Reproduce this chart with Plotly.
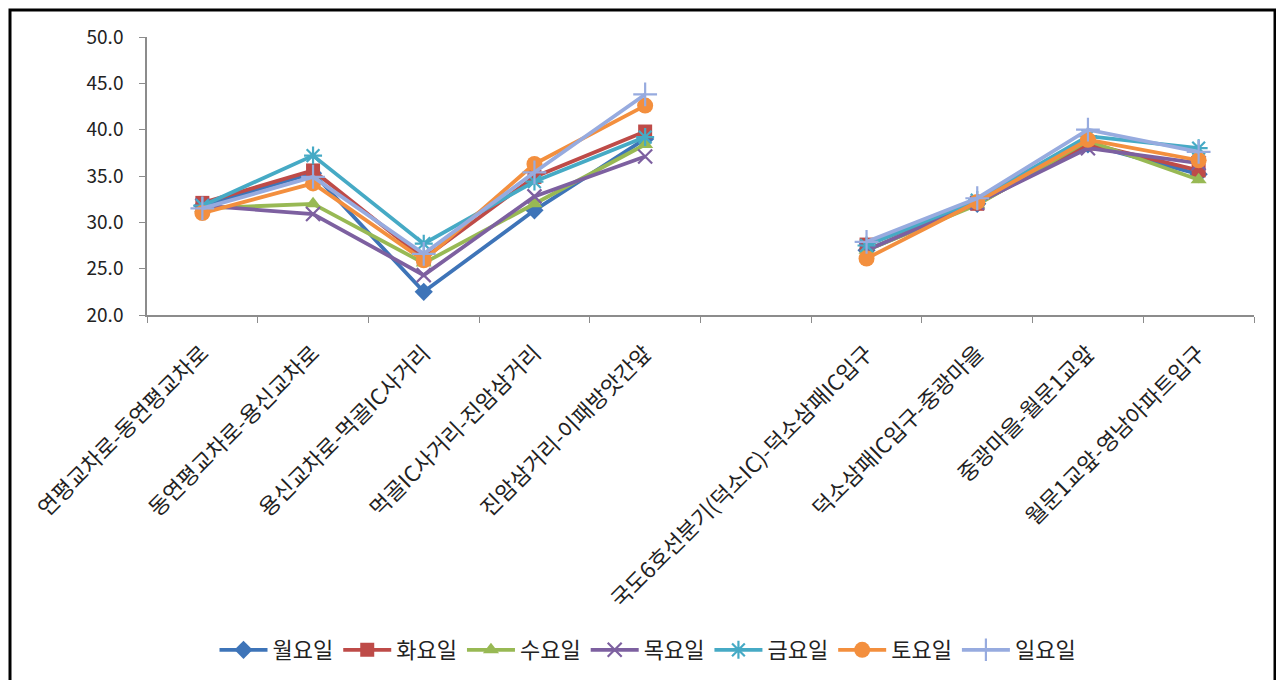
import plotly.graph_objects as go

categories = [
    "연평교차로-동연평교차로",
    "동연평교차로-용신교차로",
    "용신교차로-먹골IC사거리",
    "먹골IC사거리-진암삼거리",
    "진암삼거리-이패방앗간앞",
    " ",
    "국도6호선분기(덕소IC)-덕소삼패IC입구",
    "덕소삼패IC입구-중광마을",
    "중광마을-월문1교앞",
    "월문1교앞-영남아파트입구",
]

series_names = ["월요일", "화요일", "수요일", "목요일", "금요일", "토요일", "일요일"]

mon = [31.8, 35.3, 22.5, 31.3, 39.0, None, 27.0, 32.0, 38.4, 35.2]
tue = [32.1, 35.6, 26.1, 34.9, 39.8, None, 27.6, 32.0, 38.5, 35.6]
wed = [31.5, 32.0, 25.6, 32.0, 38.4, None, 27.0, 31.9, 38.8, 34.6]
thu = [31.8, 30.9, 24.3, 32.8, 37.1, None, 27.0, 32.1, 38.0, 36.4]
fri = [31.8, 37.2, 27.7, 34.4, 39.2, None, 27.5, 32.4, 39.3, 38.0]
sat = [31.0, 34.2, 25.9, 36.3, 42.6, None, 26.1, 32.2, 38.9, 36.7]
sun = [31.5, 34.9, 26.6, 35.4, 43.8, None, 27.9, 32.6, 40.0, 37.6]

values = [mon, tue, wed, thu, fri, sat, sun]

colors = ["#3E74B8", "#BE4B48", "#98B954", "#7D60A0", "#46AAC5", "#F38F3E", "#97ABDF"]
symbols = ["diamond", "square", "triangle-up", "x-thin", "asterisk", "circle", "cross-thin"]
sizes = [14, 14, 14, 14, 15, 16, 17]

font_family = "Noto Sans CJK KR, Noto Sans, sans-serif"

fig = go.Figure()
for name, vals, col, sym, sz in zip(series_names, values, colors, symbols, sizes):
    thin = sym in ("x-thin", "asterisk", "cross-thin")
    fig.add_trace(go.Scatter(
        x=categories, y=vals, name=name, mode="lines+markers",
        connectgaps=False,
        line=dict(color=col, width=3.8),
        marker=dict(symbol=sym, size=sz, color=col,
                    line=dict(color=col, width=2.2 if thin else 0)),
    ))

# page is offset by the default 8px body margin
OFF = 8
W, H = 1284, 680
L, R, T, B = 147 - OFF, 30 + OFF, 37 - OFF, 365 + OFF
pw, ph = W - L - R, H - T - B

def px_to_paper_x(px):
    return (px - OFF - L) / pw

def px_to_paper_y(py):
    return (H - B - (py - OFF)) / ph

fig.update_layout(
    width=W, height=H,
    margin=dict(l=L, r=R, t=T, b=B, autoexpand=False),
    paper_bgcolor="white", plot_bgcolor="white",
    font=dict(family=font_family, color="#222222"),
    showlegend=True,
    legend=dict(
        orientation="h",
        x=px_to_paper_x(648), y=px_to_paper_y(650),
        xanchor="center", yanchor="middle",
        font=dict(size=22, family=font_family, color="#222222"),
        itemwidth=48, tracegroupgap=0,
    ),
    xaxis=dict(
        type="category",
        categoryorder="array", categoryarray=categories,
        range=[-0.5, len(categories) - 0.5],
        tickson="boundaries",
        ticks="outside", ticklen=6, tickcolor="#8c8c8c",
        showline=True, linecolor="#8c8c8c", linewidth=1.5,
        showgrid=False, zeroline=False,
        tickangle=-45,
        ticklabelstandoff=15,
        tickfont=dict(size=22, family=font_family, color="#222222"),
    ),
    yaxis=dict(
        range=[20, 50], dtick=5, tick0=20, tickformat=".1f",
        ticks="outside", ticklen=6, tickcolor="#8c8c8c",
        showline=True, linecolor="#8c8c8c", linewidth=1.5,
        showgrid=False, zeroline=False,
        ticklabelstandoff=12,
        tickfont=dict(size=19, family=font_family, color="#222222"),
    ),
    shapes=[dict(
        type="rect", xref="paper", yref="paper",
        x0=px_to_paper_x(10), x1=px_to_paper_x(1275),
        y0=px_to_paper_y(700), y1=px_to_paper_y(10),
        line=dict(color="black", width=3), fillcolor="rgba(0,0,0,0)",
        layer="below",
    )],
)

fig.write_html("out.html")
